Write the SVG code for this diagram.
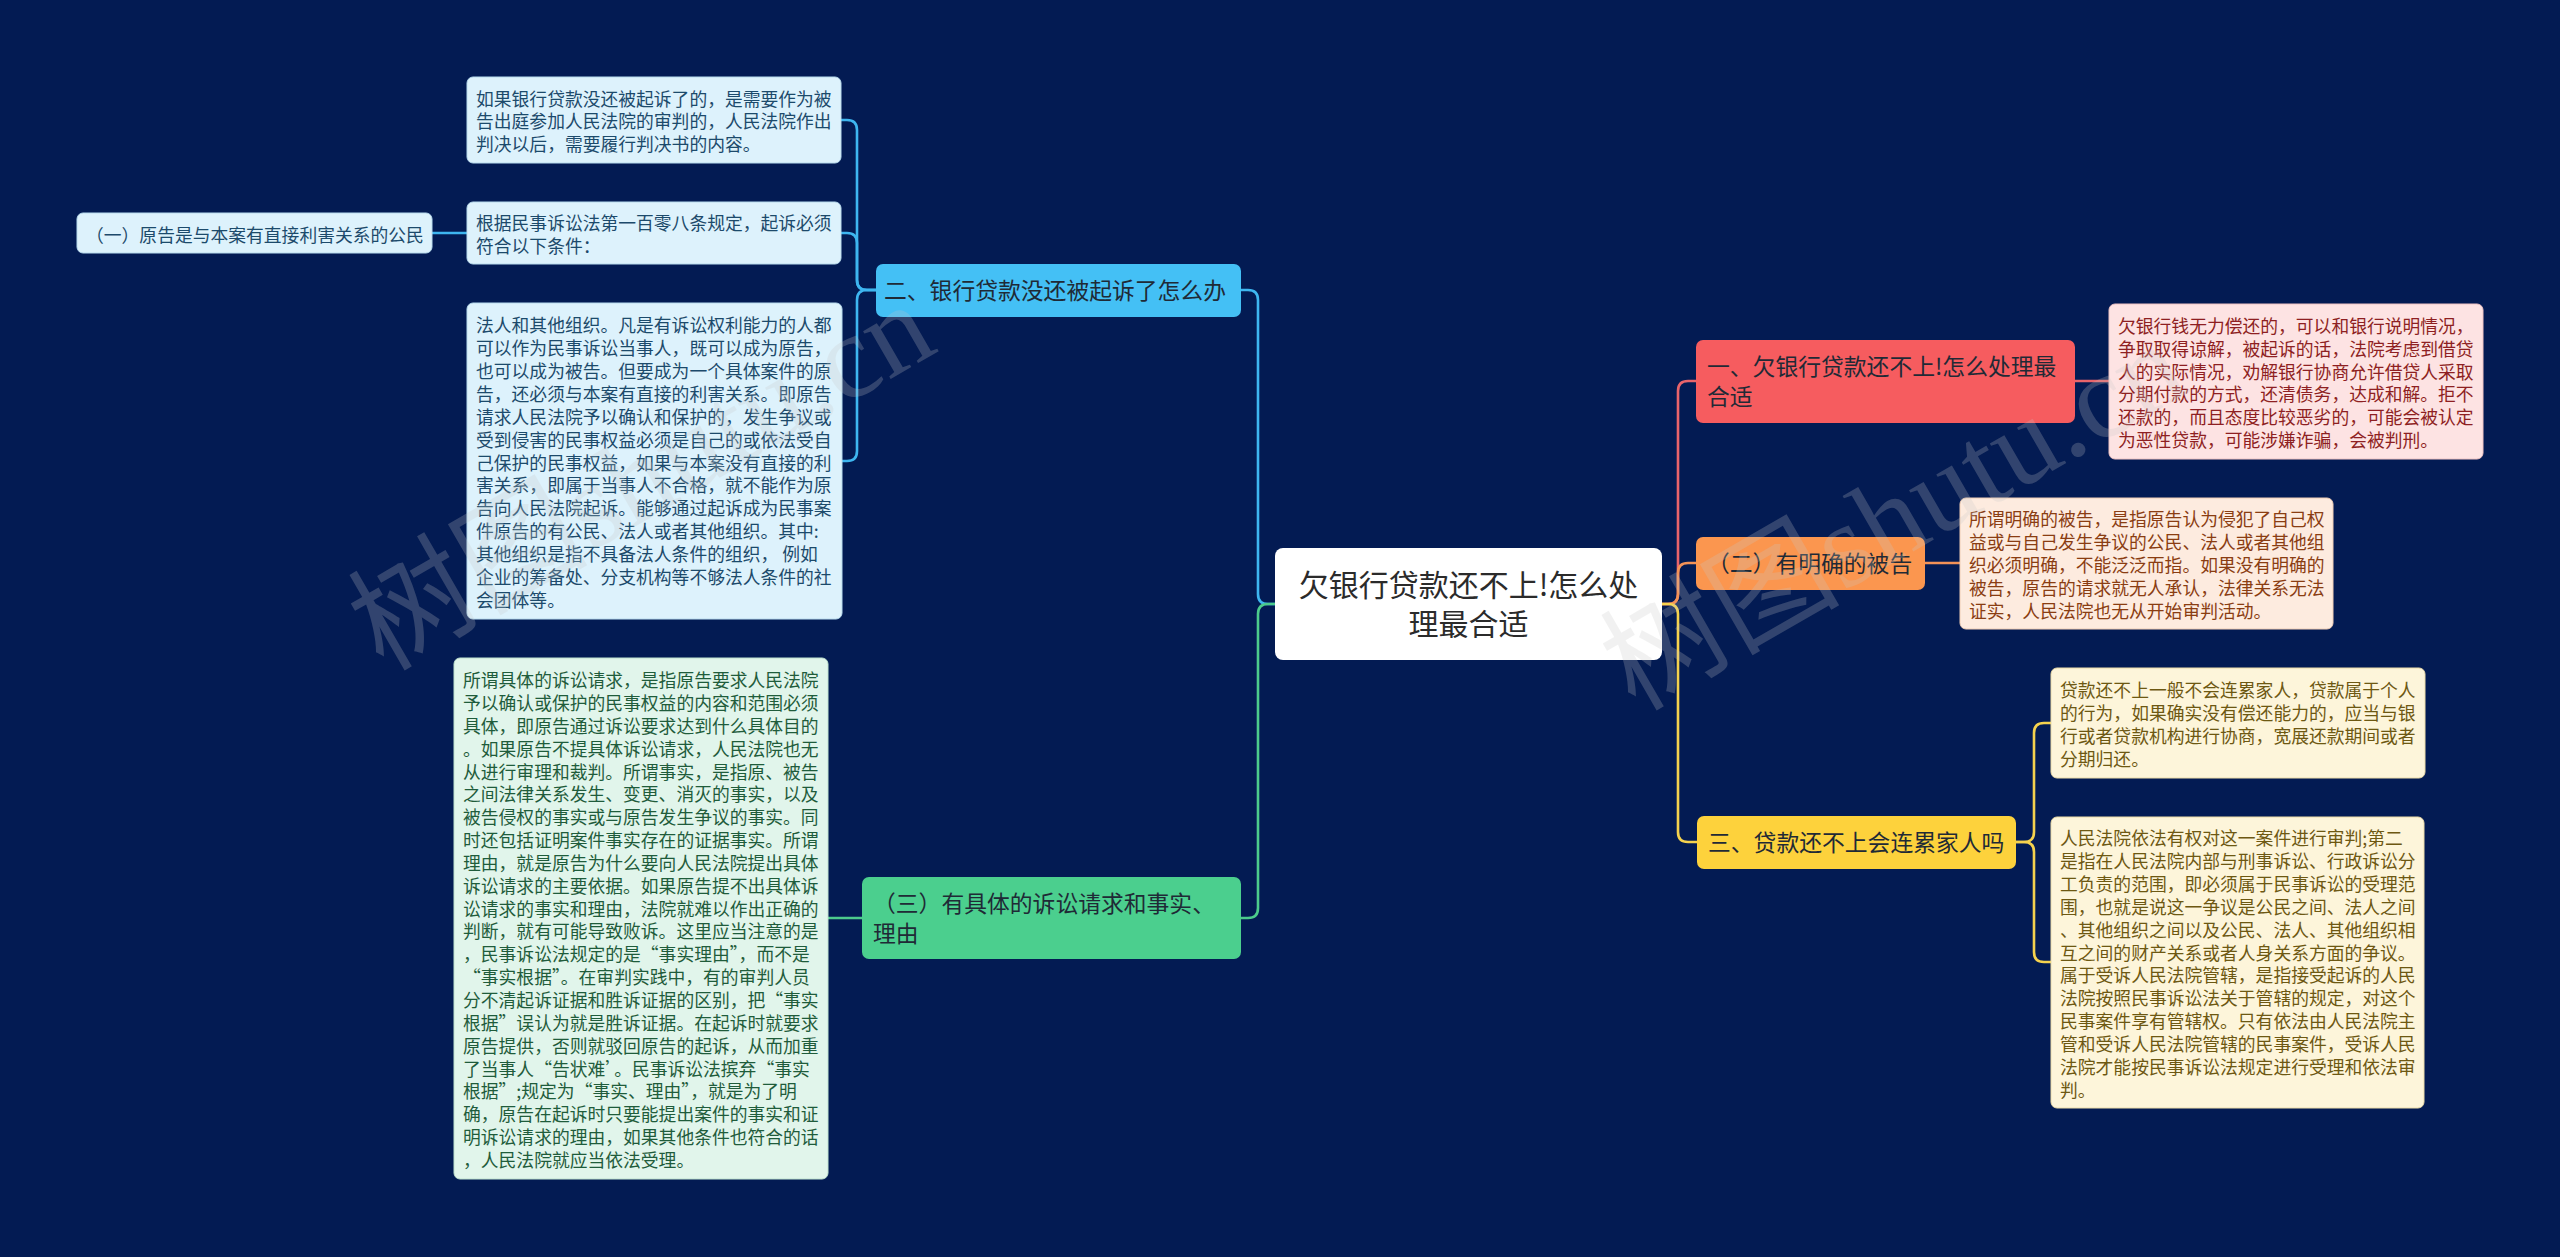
<svg xmlns="http://www.w3.org/2000/svg" width="2560" height="1257" viewBox="0 0 2560 1257">
<style>
text{font-family:"Noto Sans CJK SC","Noto Sans",sans-serif;}
.leaf{font-size:17.8px;}
.br{font-size:22.8px;fill:#1f2a36;}
.root{font-size:30px;fill:#2b2b2b;}
.c{fill:none;stroke-width:2.6;stroke-linecap:round;stroke-linejoin:round;}
.cb{stroke:#3eb6f0;}
.cg{stroke:#4ccb8c;}
.cr{stroke:#e8646b;}
.co{stroke:#f39257;}
.cy{stroke:#f5d24e;}
.lb{fill:#ddf2fc;stroke:#b9dcee;stroke-width:1;}
.lg{fill:#e1f5eb;stroke:#bfe2cf;stroke-width:1;}
.lr{fill:#fde3e3;stroke:#efc3c3;stroke-width:1;}
.lo{fill:#fdebdf;stroke:#efcdb5;stroke-width:1;}
.ly{fill:#fdf5da;stroke:#ecdca8;stroke-width:1;}
.tb{fill:#1c4a6b;}
.tg{fill:#1f5c3b;}
.tr{fill:#8e1f22;}
.to{fill:#8a3d12;}
.ty{fill:#6d5812;}
.wm{font-family:"Liberation Serif","Noto Sans CJK SC",serif;font-size:120px;fill:#c8c8c8;opacity:0.24;}
</style>
<rect x="0" y="0" width="2560" height="1257" fill="#031b53"/>

<g id="connectors">
  <path class="c cb" d="M1275,604 H1268 Q1258,604 1258,594 V300 Q1258,290 1248,290 H1241"/>
  <path class="c cg" d="M1275,604 H1268 Q1258,604 1258,614 V908 Q1258,918 1248,918 H1241"/>
  <path class="c cb" d="M876,290 H867 Q857,290 857,280 V130 Q857,120 847,120 H841"/>
  <path class="c cb" d="M876,290 H867 Q857,290 857,280 V243 Q857,233 847,233 H841"/>
  <path class="c cb" d="M876,290 H867 Q857,290 857,300 V451 Q857,461 847,461 H842"/>
  <path class="c cb" d="M432,233 H467"/>
  <path class="c cg" d="M828,918 H862"/>
  <path class="c cr" d="M1662,604 H1668 Q1678,604 1678,594 V391 Q1678,381 1688,381 H1696"/>
  <path class="c co" d="M1662,604 H1668 Q1678,604 1678,594 V573 Q1678,563 1688,563 H1696"/>
  <path class="c cy" d="M1662,604 H1668 Q1678,604 1678,614 V832 Q1678,842 1688,842 H1697"/>
  <path class="c cr" d="M2075,381 H2109"/>
  <path class="c co" d="M1925,563 H1960"/>
  <path class="c cy" d="M2016,842 H2024 Q2034,842 2034,832 V733 Q2034,723 2044,723 H2051"/>
  <path class="c cy" d="M2016,842 H2024 Q2034,842 2034,852 V952 Q2034,962 2044,962 H2051"/>
</g>

<g id="root">
  <rect x="1275" y="548" width="387" height="112" rx="8" fill="#ffffff"/>
  <text class="root" x="1468.5" text-anchor="middle"><tspan x="1468.5" y="595.5">欠银行贷款还不上!怎么处</tspan><tspan x="1468.5" y="634.5">理最合适</tspan></text>
</g>

<g id="branch-2">
  <rect x="876" y="264" width="365" height="53" rx="7" fill="#44c0f5"/>
  <text class="br" x="884" y="299">二、银行贷款没还被起诉了怎么办</text>
</g>
<g id="leaf-2a">
  <rect class="lb" x="467" y="77" width="374" height="86" rx="6"/>
  <text class="leaf tb"><tspan x="476" y="105.6">如果银行贷款没还被起诉了的，是需要作为被</tspan><tspan x="476" dy="22.85">告出庭参加人民法院的审判的，人民法院作出</tspan><tspan x="476" dy="22.85">判决以后，需要履行判决书的内容。</tspan></text>
</g>
<g id="leaf-2b">
  <rect class="lb" x="467" y="202" width="374" height="62" rx="6"/>
  <text class="leaf tb"><tspan x="476" y="230.1">根据民事诉讼法第一百零八条规定，起诉必须</tspan><tspan x="476" dy="22.85">符合以下条件：</tspan></text>
</g>
<g id="leaf-2b1">
  <rect class="lb" x="77" y="213" width="355" height="40" rx="6"/>
  <text class="leaf tb" x="86" y="241.5">（一）原告是与本案有直接利害关系的公民</text>
</g>
<g id="leaf-2c">
  <rect class="lb" x="467" y="303" width="375" height="316" rx="6"/>
  <text class="leaf tb"><tspan x="476" y="332.4">法人和其他组织。凡是有诉讼权利能力的人都</tspan><tspan x="476" dy="22.85">可以作为民事诉讼当事人，既可以成为原告，</tspan><tspan x="476" dy="22.85">也可以成为被告。但要成为一个具体案件的原</tspan><tspan x="476" dy="22.85">告，还必须与本案有直接的利害关系。即原告</tspan><tspan x="476" dy="22.85">请求人民法院予以确认和保护的，发生争议或</tspan><tspan x="476" dy="22.85">受到侵害的民事权益必须是自己的或依法受自</tspan><tspan x="476" dy="22.85">己保护的民事权益，如果与本案没有直接的利</tspan><tspan x="476" dy="22.85">害关系，即属于当事人不合格，就不能作为原</tspan><tspan x="476" dy="22.85">告向人民法院起诉。能够通过起诉成为民事案</tspan><tspan x="476" dy="22.85">件原告的有公民、法人或者其他组织。其中:</tspan><tspan x="476" dy="22.85">其他组织是指不具备法人条件的组织， 例如</tspan><tspan x="476" dy="22.85">企业的筹备处、分支机构等不够法人条件的社</tspan><tspan x="476" dy="22.85">会团体等。</tspan></text>
</g>

<g id="branch-3">
  <rect x="862" y="877" width="379" height="82" rx="7" fill="#4bcf8e"/>
  <text class="br"><tspan x="873" y="911.7">（三）有具体的诉讼请求和事实、</tspan><tspan x="873" dy="30">理由</tspan></text>
</g>
<g id="leaf-3a">
  <rect class="lg" x="454" y="658" width="374" height="521" rx="6"/>
  <text class="leaf tg"><tspan x="463" y="687.1">所谓具体的诉讼请求，是指原告要求人民法院</tspan><tspan x="463" dy="22.85">予以确认或保护的民事权益的内容和范围必须</tspan><tspan x="463" dy="22.85">具体，即原告通过诉讼要求达到什么具体目的</tspan><tspan x="463" dy="22.85">。如果原告不提具体诉讼请求，人民法院也无</tspan><tspan x="463" dy="22.85">从进行审理和裁判。所谓事实，是指原、被告</tspan><tspan x="463" dy="22.85">之间法律关系发生、变更、消灭的事实，以及</tspan><tspan x="463" dy="22.85">被告侵权的事实或与原告发生争议的事实。同</tspan><tspan x="463" dy="22.85">时还包括证明案件事实存在的证据事实。所谓</tspan><tspan x="463" dy="22.85">理由，就是原告为什么要向人民法院提出具体</tspan><tspan x="463" dy="22.85">诉讼请求的主要依据。如果原告提不出具体诉</tspan><tspan x="463" dy="22.85">讼请求的事实和理由，法院就难以作出正确的</tspan><tspan x="463" dy="22.85">判断，就有可能导致败诉。这里应当注意的是</tspan><tspan x="463" dy="22.85">，民事诉讼法规定的是“事实理由”，而不是</tspan><tspan x="463" dy="22.85">“事实根据”。在审判实践中，有的审判人员</tspan><tspan x="463" dy="22.85">分不清起诉证据和胜诉证据的区别，把“事实</tspan><tspan x="463" dy="22.85">根据”误认为就是胜诉证据。在起诉时就要求</tspan><tspan x="463" dy="22.85">原告提供，否则就驳回原告的起诉，从而加重</tspan><tspan x="463" dy="22.85">了当事人“告状难’。民事诉讼法摈弃“事实</tspan><tspan x="463" dy="22.85">根据”;规定为“事实、理由”，就是为了明</tspan><tspan x="463" dy="22.85">确，原告在起诉时只要能提出案件的事实和证</tspan><tspan x="463" dy="22.85">明诉讼请求的理由，如果其他条件也符合的话</tspan><tspan x="463" dy="22.85">，人民法院就应当依法受理。</tspan></text>
</g>

<g id="branch-1">
  <rect x="1696" y="340" width="379" height="83" rx="7" fill="#f65c5f"/>
  <text class="br"><tspan x="1707" y="375">一、欠银行贷款还不上!怎么处理最</tspan><tspan x="1707" dy="30">合适</tspan></text>
</g>
<g id="leaf-1a">
  <rect class="lr" x="2109" y="304" width="374" height="155" rx="6"/>
  <text class="leaf tr"><tspan x="2118" y="332.9">欠银行钱无力偿还的，可以和银行说明情况，</tspan><tspan x="2118" dy="22.85">争取取得谅解，被起诉的话，法院考虑到借贷</tspan><tspan x="2118" dy="22.85">人的实际情况，劝解银行协商允许借贷人采取</tspan><tspan x="2118" dy="22.85">分期付款的方式，还清债务，达成和解。拒不</tspan><tspan x="2118" dy="22.85">还款的，而且态度比较恶劣的，可能会被认定</tspan><tspan x="2118" dy="22.85">为恶性贷款，可能涉嫌诈骗，会被判刑。</tspan></text>
</g>

<g id="branch-1b">
  <rect x="1696" y="537" width="229" height="53" rx="7" fill="#fb964f"/>
  <text class="br" x="1707" y="572">（二）有明确的被告</text>
</g>
<g id="leaf-1b">
  <rect class="lo" x="1960" y="498" width="373" height="131" rx="6"/>
  <text class="leaf to"><tspan x="1969" y="526.3">所谓明确的被告，是指原告认为侵犯了自己权</tspan><tspan x="1969" dy="22.85">益或与自己发生争议的公民、法人或者其他组</tspan><tspan x="1969" dy="22.85">织必须明确，不能泛泛而指。如果没有明确的</tspan><tspan x="1969" dy="22.85">被告，原告的请求就无人承认，法律关系无法</tspan><tspan x="1969" dy="22.85">证实，人民法院也无从开始审判活动。</tspan></text>
</g>

<g id="branch-1c">
  <rect x="1697" y="816" width="319" height="53" rx="7" fill="#fdd23c"/>
  <text class="br" x="1708" y="851">三、贷款还不上会连累家人吗</text>
</g>
<g id="leaf-1c1">
  <rect class="ly" x="2051" y="668" width="374" height="110" rx="6"/>
  <text class="leaf ty"><tspan x="2060" y="697.2">贷款还不上一般不会连累家人，贷款属于个人</tspan><tspan x="2060" dy="22.85">的行为，如果确实没有偿还能力的，应当与银</tspan><tspan x="2060" dy="22.85">行或者贷款机构进行协商，宽展还款期间或者</tspan><tspan x="2060" dy="22.85">分期归还。</tspan></text>
</g>
<g id="leaf-1c2">
  <rect class="ly" x="2051" y="817" width="373" height="291" rx="6"/>
  <text class="leaf ty"><tspan x="2060" y="845.3">人民法院依法有权对这一案件进行审判;第二</tspan><tspan x="2060" dy="22.85">是指在人民法院内部与刑事诉讼、行政诉讼分</tspan><tspan x="2060" dy="22.85">工负责的范围，即必须属于民事诉讼的受理范</tspan><tspan x="2060" dy="22.85">围，也就是说这一争议是公民之间、法人之间</tspan><tspan x="2060" dy="22.85">、其他组织之间以及公民、法人、其他组织相</tspan><tspan x="2060" dy="22.85">互之间的财产关系或者人身关系方面的争议。</tspan><tspan x="2060" dy="22.85">属于受诉人民法院管辖，是指接受起诉的人民</tspan><tspan x="2060" dy="22.85">法院按照民事诉讼法关于管辖的规定，对这个</tspan><tspan x="2060" dy="22.85">民事案件享有管辖权。只有依法由人民法院主</tspan><tspan x="2060" dy="22.85">管和受诉人民法院管辖的民事案件，受诉人民</tspan><tspan x="2060" dy="22.85">法院才能按民事诉讼法规定进行受理和依法审</tspan><tspan x="2060" dy="22.85">判。</tspan></text>
</g>

<g id="watermarks">
  <text class="wm" transform="translate(383,672) rotate(-30)">树图shutu.cn</text>
  <text class="wm" transform="translate(1635,712) rotate(-30)">树图shutu.cn</text>
</g>
</svg>
